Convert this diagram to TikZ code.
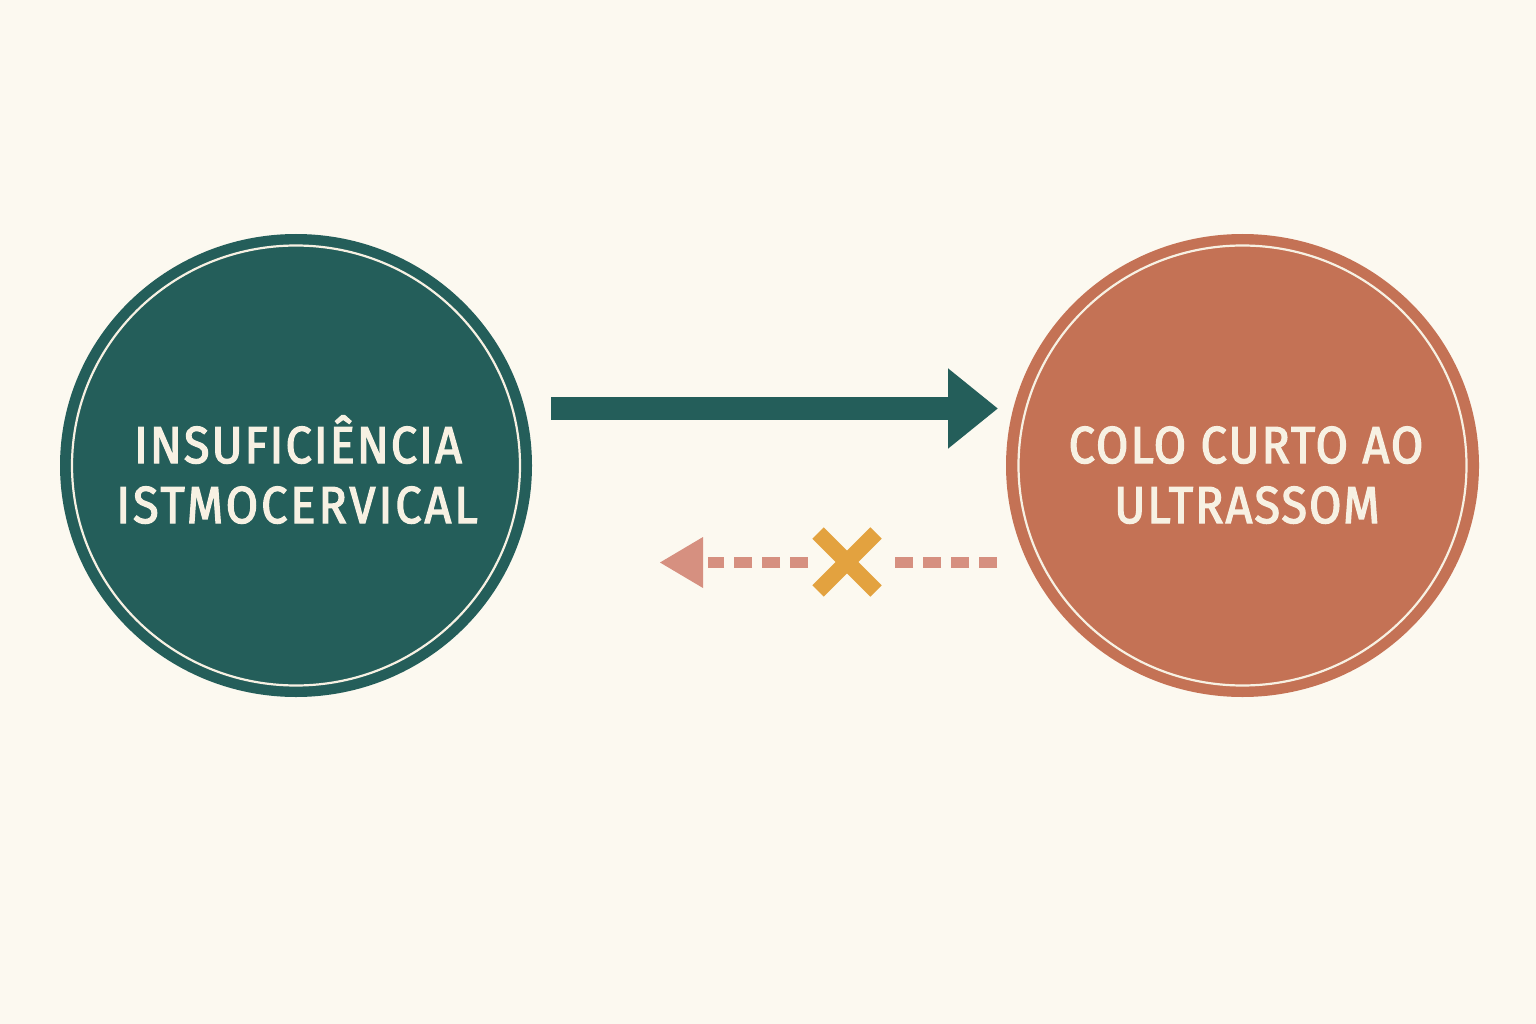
\documentclass[tikz,border=0pt]{standalone}
\usepackage{fontspec}
\setmainfont{Fira Sans}[FakeStretch=0.9,LetterSpace=4,FakeBold=2.5]
\usetikzlibrary{arrows.meta,shapes.geometric}
\definecolor{bg}{HTML}{FCF9F0}
\definecolor{tealc}{HTML}{245E5A}
\definecolor{terra}{HTML}{C47255}
\definecolor{pinkd}{HTML}{D69080}
\definecolor{orx}{HTML}{E3A23F}
\definecolor{cream}{HTML}{F7F1E3}
\tikzset{
  ball/.style={ellipse, minimum width=448pt, minimum height=440pt, inner sep=0pt,
    draw=cream, line width=2.2pt},
  lbl/.style={anchor=base, inner sep=0pt, text=cream, font=\fontsize{52}{62}\selectfont},
  mainarrow/.style={draw=tealc, line width=23pt, -{Triangle[length=50pt,width=77pt]}},
  dashline/.style={draw=pinkd, line width=11pt, dash pattern=on 18pt off 10pt},
  crossline/.style={draw=orx, line width=16pt},
}
\begin{document}
\begin{tikzpicture}[x=1pt,y=-1pt]
\fill[bg] (0,0) rectangle (1536,1024);
\useasboundingbox (0,0) rectangle (1536,1024);
\fill[tealc] (296,465.5) ellipse [x radius=236pt, y radius=231.5pt];
\fill[terra] (1242.5,465.5) ellipse [x radius=236.5pt, y radius=231.5pt];
\node[ball, fill=tealc] (L) at (296,465.5) {};
\node[ball, fill=terra] (R) at (1242.5,465.5) {};
\node[lbl] (L1) at (298,463) {INSUFICIÊNCIA};
\node[lbl] (L2) at (297,523) {\addfontfeature{LetterSpace=5.8}ISTMOCERVICAL};
\node[lbl] (R1) at (1246,463) {COLO CURTO AO};
\node[lbl] (R2) at (1247,523) {ULTRASSOM};
\coordinate (a1) at (551,408.5);
\coordinate (a2) at (998,408.5);
\draw[mainarrow] (a1) -- (a2);
\coordinate (d1) at (997,562.5);
\coordinate (d2) at (893,562.5);
\coordinate (d3) at (808,562.5);
\coordinate (d4) at (708,562.5);
\draw[dashline] (d1) -- (d2);
\draw[dashline] (d3) -- (d4);
\coordinate (h1) at (703,537);
\coordinate (h2) at (703,588);
\coordinate (h3) at (660,562.5);
\fill[pinkd] (h1) -- (h2) -- (h3) -- cycle;
\coordinate (x1) at (818,533);
\coordinate (x2) at (876,591);
\coordinate (x3) at (876,533);
\coordinate (x4) at (818,591);
\draw[crossline] (x1) -- (x2);
\draw[crossline] (x3) -- (x4);
\end{tikzpicture}
\end{document}
